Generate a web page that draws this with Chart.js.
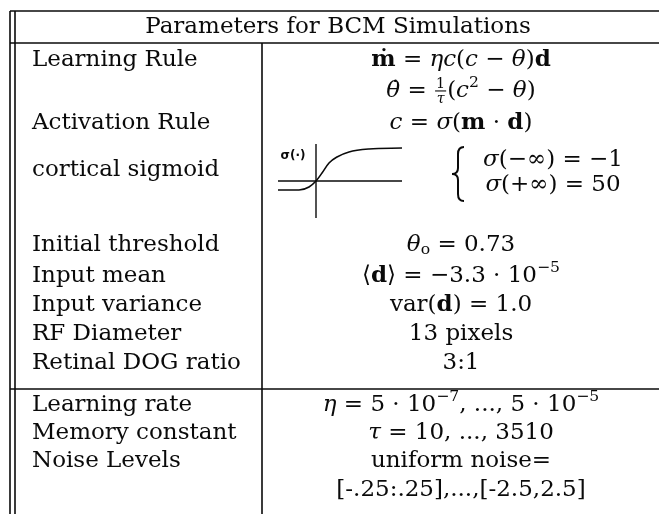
<!DOCTYPE html>
<html lang="en">
<head>
<meta charset="UTF-8">
<title>Parameters for BCM Simulations</title>
<script src="https://cdn.jsdelivr.net/npm/chart.js"></script>
<style>
    html, body {
        margin: 0;
        padding: 0;
        background: #ffffff;
    }

    .chart-container {
        position: relative;
        width: 659px;
        height: 514px;
    }
</style>
</head>
<body>
<div class="chart-container">
    <canvas id="myChart"></canvas>
</div>
<script>

    // ---- table content ----
    // markup: *bold*  _italic_  ^sup^  ~sub~  {num|den} small fraction
    const TITLE = 'Parameters for BCM Simulations';

    const rowLabels = [
        'Learning Rule', '', 'Activation Rule', 'cortical sigmoid',
        'Initial threshold', 'Input mean', 'Input variance', 'RF Diameter', 'Retinal DOG ratio',
        'Learning rate', 'Memory constant', 'Noise Levels', ''
    ];

    const rowValues = [
        '*ṁ* = _ηc_(_c_ − _θ_)*d*',
        '_θ̇_ = {1|τ}(_c_^2^ − _θ_)',
        '_c_ = _σ_(*m* · *d*)',
        '',
        '_θ_~o~ = 0.73',
        '⟨*d*⟩ = −3.3 · 10^−5^',
        'var(*d*) = 1.0',
        '13 pixels',
        '3:1',
        '_η_ = 5 · 10^−7^, ..., 5 · 10^−5^',
        '_τ_ = 10, ..., 3510',
        'uniform noise=',
        '[-.25:.25],...,[-2.5,2.5]'
    ];

    const sigmoidLimits = ['_σ_(−∞) = −1', '_σ_(+∞) = 50'];
    const sigmoidLabel = 'σ(·)';

    // hand sketch of the sigmoid (px from the inset origin, y up)
    const sigmoidX = [-38, -17, -7, 0, 6, 13, 21, 33, 53, 86];
    const sigmoidY = [-9, -9, -6, 0, 8, 18, 24, 29, 32, 33];

    // ---- layout ----
    const W = 659, H = 514;
    const FONT = '"DejaVu Serif", serif';
    const SIZE = 23;
    const INK = '#0a0a0a';

    const TABLE = { left: 10, left2: 15, right: 659, top: 11, head: 43, mid: 389, bottom: 514, split: 262 };
    const rowY = [60, 91, 123, 170, 245, 276, 305, 334, 363, 405, 433, 461, 490];
    const labelX = 32, valueX = 461;
    const titleX = 338, titleY = 27;
    const inset = { x: 316, y: 181, left: 278, right: 402, top: 144, bottom: 218, labelX: 293, labelY: 156 };
    const brace = { x: 458, top: 147, bottom: 201 };
    const limitsX = 553, limitsY = [160, 185];

    const seg = (x1, y1, x2, y2) => [{ x: x1, y: y1 }, { x: x2, y: y2 }];

    const ruleSegs = [
        seg(TABLE.left, TABLE.top, TABLE.right, TABLE.top),
        seg(TABLE.left, TABLE.head, TABLE.right, TABLE.head),
        seg(TABLE.left, TABLE.mid, TABLE.right, TABLE.mid),
        seg(TABLE.left, TABLE.top, TABLE.left, TABLE.bottom),
        seg(TABLE.left2, TABLE.top, TABLE.left2, TABLE.bottom),
        seg(TABLE.split, TABLE.head, TABLE.split, TABLE.bottom)
    ];

    const insetAxes = [
        seg(inset.left, inset.y, inset.right, inset.y),
        seg(inset.x, inset.top, inset.x, inset.bottom)
    ];

    const lineSet = (data, width) => ({
        data: data,
        showLine: true,
        borderColor: INK,
        borderWidth: width,
        pointRadius: 0,
        clip: false
    });

    const datasets = [
        ...ruleSegs.map(d => lineSet(d, 1.6)),
        ...insetAxes.map(d => lineSet(d, 1.4)),
        {
            ...lineSet(sigmoidX.map((v, i) => ({ x: inset.x + v, y: inset.y - sigmoidY[i] })), 1.6),
            cubicInterpolationMode: 'monotone'
        }
    ];

    // ---- rich text ----
    function parseRich(src) {
        const runs = [];
        const style = { b: false, i: false, sup: false, sub: false };
        let buf = '';
        const flush = () => {
            if (buf) runs.push({ text: buf, ...style });
            buf = '';
        };
        for (let k = 0; k < src.length; k++) {
            const c = src[k];
            if (c === '*') { flush(); style.b = !style.b; }
            else if (c === '_') { flush(); style.i = !style.i; }
            else if (c === '^') { flush(); style.sup = !style.sup; }
            else if (c === '~') { flush(); style.sub = !style.sub; }
            else if (c === '{') {
                flush();
                const end = src.indexOf('}', k);
                runs.push({ frac: src.slice(k + 1, end).split('|') });
                k = end;
            }
            else buf += c;
        }
        flush();
        return runs;
    }

    function fontFor(run) {
        const size = (run.sup || run.sub) ? SIZE * 0.68 : SIZE;
        return (run.i ? 'italic ' : '') + (run.b ? 'bold ' : '') + size + 'px ' + FONT;
    }

    const FRAC_NUM = (SIZE * 0.62) + 'px ' + FONT;
    const FRAC_DEN = 'italic ' + (SIZE * 0.62) + 'px ' + FONT;

    function runWidth(ctx, run) {
        if (run.frac) {
            ctx.font = FRAC_NUM;
            const a = ctx.measureText(run.frac[0]).width;
            ctx.font = FRAC_DEN;
            const b = ctx.measureText(run.frac[1]).width;
            return Math.max(a, b) + 4;
        }
        ctx.font = fontFor(run);
        return ctx.measureText(run.text).width;
    }

    function drawRich(ctx, src, px, py, align) {
        const runs = parseRich(src);
        const widths = runs.map(r => runWidth(ctx, r));
        const total = widths.reduce((s, w) => s + w, 0);
        let cx = align === 'center' ? px - total / 2 : px;
        ctx.textAlign = 'left';
        ctx.textBaseline = 'middle';
        runs.forEach((r, k) => {
            if (r.frac) {
                const mid = cx + widths[k] / 2;
                ctx.textAlign = 'center';
                ctx.font = FRAC_NUM;
                ctx.fillText(r.frac[0], mid, py - SIZE * 0.3);
                ctx.font = FRAC_DEN;
                ctx.fillText(r.frac[1], mid, py + SIZE * 0.36);
                ctx.fillRect(cx + 1, py - 0.6, widths[k] - 2, 1.1);
                ctx.textAlign = 'left';
            } else {
                ctx.font = fontFor(r);
                const dy = r.sup ? -SIZE * 0.36 : (r.sub ? SIZE * 0.22 : 0);
                ctx.fillText(r.text, cx, py + dy);
            }
            cx += widths[k];
        });
    }

    function drawBrace(ctx, bx, top, bottom) {
        const mid = (top + bottom) / 2;
        const w = 6;
        ctx.beginPath();
        ctx.moveTo(bx + w, top);
        ctx.quadraticCurveTo(bx, top, bx, top + 7);
        ctx.lineTo(bx, mid - 6);
        ctx.quadraticCurveTo(bx, mid, bx - w, mid);
        ctx.quadraticCurveTo(bx, mid, bx, mid + 6);
        ctx.lineTo(bx, bottom - 7);
        ctx.quadraticCurveTo(bx, bottom, bx + w, bottom);
        ctx.stroke();
    }

    const tableTextPlugin = {
        id: 'tableText',
        afterDatasetsDraw(chart) {
            const ctx = chart.ctx;
            const sx = v => chart.scales.x.getPixelForValue(v);
            const sy = v => chart.scales.y.getPixelForValue(v);

            ctx.save();
            ctx.fillStyle = INK;
            ctx.strokeStyle = INK;

            drawRich(ctx, TITLE, sx(titleX), sy(titleY), 'center');

            rowLabels.forEach((t, i) => {
                if (t) drawRich(ctx, t, sx(labelX), sy(rowY[i]), 'left');
            });
            rowValues.forEach((t, i) => {
                if (t) drawRich(ctx, t, sx(valueX), sy(rowY[i]), 'center');
            });

            // sigmoid limits
            sigmoidLimits.forEach((t, i) => drawRich(ctx, t, sx(limitsX), sy(limitsY[i]), 'center'));
            ctx.lineWidth = 2;
            drawBrace(ctx, sx(brace.x), sy(brace.top), sy(brace.bottom));

            // inset label
            ctx.font = 'bold 12px "DejaVu Sans", sans-serif';
            ctx.textAlign = 'center';
            ctx.textBaseline = 'middle';
            ctx.fillText(sigmoidLabel, sx(inset.labelX), sy(inset.labelY));

            ctx.restore();
        }
    };

    const config = {
        type: 'scatter',
        data: { datasets: datasets },
        options: {
            animation: false,
            responsive: true,
            maintainAspectRatio: false,
            events: [],
            layout: { padding: 0 },
            plugins: {
                legend: { display: false },
                tooltip: { enabled: false },
                title: { display: false }
            },
            scales: {
                x: { type: 'linear', min: 0, max: W, display: false },
                y: { type: 'linear', min: 0, max: H, reverse: true, display: false }
            }
        },
        plugins: [tableTextPlugin]
    };

    const chart = new Chart(document.getElementById('myChart'), config);

</script>
</body>
</html>
